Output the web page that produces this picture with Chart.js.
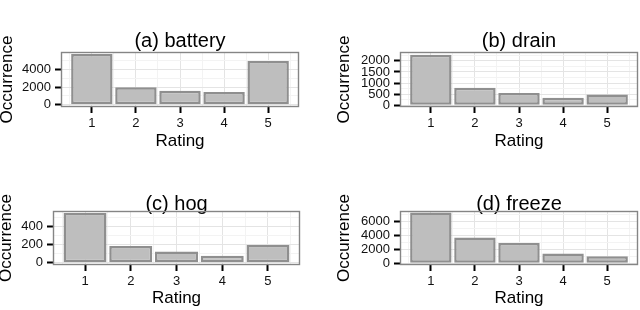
<!DOCTYPE html>
<html>
<head>
<meta charset="utf-8">
<script src="https://cdn.jsdelivr.net/npm/chart.js@4.4.1/dist/chart.umd.min.js"></script>
<style>
  html, body { margin: 0; padding: 0; background: #fff; overflow: hidden; }
  #wrap { position: relative; width: 640px; height: 310px; overflow: hidden; }
  #wrap canvas { position: absolute; }
</style>
</head>
<body>
<div id="wrap">
  <canvas id="battery"></canvas>
  <canvas id="drain"></canvas>
  <canvas id="hog"></canvas>
  <canvas id="freeze"></canvas>
</div>
<script>
// data
const ratings = ['1', '2', '3', '4', '5'];
const batteryCounts = [5750, 2000, 1600, 1460, 4950];
const drainCounts = [2280, 790, 555, 340, 480];
const hogCounts = [547, 185, 124, 78, 196];
const freezeCounts = [7280, 3710, 2910, 1390, 1000];
const panelTitles = ['(a) battery', '(b) drain', '(c) hog', '(d) freeze'];

// labelled y ticks of each panel
const batteryTicks = [0, 2000, 4000];
const drainTicks = [0, 500, 1000, 1500, 2000];
const hogTicks = [0, 200, 400];
const freezeTicks = [0, 2000, 4000, 6000];

const yMins = [-250, -80, -25, -250];
const yMaxs = [5980, 2400, 570, 7500];

const panelData = [batteryCounts, drainCounts, hogCounts, freezeCounts];
const panelTicks = [batteryTicks, drainTicks, hogTicks, freezeTicks];
const canvasIds = ['battery', 'drain', 'hog', 'freeze'];

// placement of each panel (pixels)
const layouts = [
  { left: 0,   top: 0,   width: 301, yWidth: 61, chartBottom: 107, titlePad: { top: 31, bottom: 1 },  ratingPad: 5 },
  { left: 337, top: 0,   width: 303, yWidth: 63, chartBottom: 107, titlePad: { top: 31, bottom: 1 },  ratingPad: 5 },
  { left: -1,  top: 155, width: 303, yWidth: 54, chartBottom: 110, titlePad: { top: 39, bottom: -3 }, ratingPad: 3 },
  { left: 337, top: 155, width: 303, yWidth: 63, chartBottom: 110, titlePad: { top: 39, bottom: -3 }, ratingPad: 3 }
];
const canvasHeight = 155;

Chart.defaults.font.family = "'Liberation Sans', Arial, Helvetica, sans-serif";
Chart.defaults.color = '#111';

const majorGrid = '#e4e4e4';
const minorGrid = '#f3f3f3';

// grey frame round the plot area, like theme_bw
const panelFrame = {
  id: 'panelFrame',
  afterDatasetsDraw(chart) {
    const { ctx, chartArea: a } = chart;
    ctx.save();
    ctx.strokeStyle = '#858585';
    ctx.lineWidth = 1.4;
    ctx.strokeRect(a.left + 0.5, a.top + 0.5, a.right - a.left - 1, a.bottom - a.top - 1);
    ctx.restore();
  }
};

function drawPanel(i) {
  const lay = layouts[i];
  const canvas = document.getElementById(canvasIds[i]);
  canvas.width = lay.width;
  canvas.height = canvasHeight;
  canvas.style.left = lay.left + 'px';
  canvas.style.top = lay.top + 'px';

  const majors = panelTicks[i];
  const half = (majors[1] - majors[0]) / 2;
  const isMajorY = (v) => majors.includes(v);
  const isMajorX = (v) => Number.isInteger(v);
  const points = panelData[i].map((v, k) => ({ x: k + 1, y: v }));

  new Chart(canvas.getContext('2d'), {
    type: 'bar',
    data: {
      datasets: [{
        data: points,
        backgroundColor: '#bebebe',
        borderColor: '#8f8f8f',
        borderWidth: 2.5,
        borderSkipped: false,
        // bar width is measured against the half-step ticks, so 1.88 = 0.94 of a rating
        barPercentage: 1.88,
        categoryPercentage: 1
      }]
    },
    options: {
      responsive: false,
      animation: false,
      devicePixelRatio: 1,
      layout: { padding: { left: 0, right: 2, top: 0, bottom: 0 } },
      plugins: {
        legend: { display: false },
        tooltip: { enabled: false },
        title: {
          display: true,
          text: panelTitles[i],
          fullSize: false,
          color: '#000',
          font: { size: 20, weight: 'normal', lineHeight: 1 },
          padding: lay.titlePad
        }
      },
      scales: {
        x: {
          type: 'linear',
          min: 0.3,
          max: 5.7,
          offset: false,
          afterBuildTicks(s) {
            const t = [];
            for (let k = 0; k <= ratings.length; k++) {
              t.push({ value: k + 0.5 });
              if (k < ratings.length) t.push({ value: k + 1 });
            }
            s.ticks = t;
          },
          afterFit(s) { s.height = canvasHeight - lay.chartBottom; },
          ticks: {
            autoSkip: false,
            maxRotation: 0,
            minRotation: 0,
            padding: 3,
            color: '#111',
            font: { size: 13 },
            callback: (v) => isMajorX(v) ? ratings[v - 1] : ''
          },
          grid: {
            offset: false,
            color: (c) => c.tick && isMajorX(c.tick.value) ? majorGrid : minorGrid,
            tickColor: (c) => c.tick && isMajorX(c.tick.value) ? '#000' : 'rgba(0,0,0,0)',
            tickLength: 6,
            tickWidth: 2,
            lineWidth: 1
          },
          border: { display: false },
          title: {
            display: true,
            text: 'Rating',
            color: '#000',
            font: { size: 17, lineHeight: 1 },
            padding: { top: 0, bottom: lay.ratingPad }
          }
        },
        y: {
          min: yMins[i],
          max: yMaxs[i],
          afterBuildTicks(s) {
            const t = [];
            for (let v = 0; v < s.max; v += half) t.push({ value: v });
            s.ticks = t;
          },
          afterFit(s) { s.width = lay.yWidth; },
          ticks: {
            autoSkip: false,
            padding: 4,
            color: '#111',
            font: { size: 13 },
            callback: (v) => isMajorY(v) ? String(v) : ''
          },
          grid: {
            color: (c) => c.tick && isMajorY(c.tick.value) ? majorGrid : minorGrid,
            tickColor: (c) => c.tick && isMajorY(c.tick.value) ? '#000' : 'rgba(0,0,0,0)',
            tickLength: 6,
            tickWidth: 2,
            lineWidth: 1
          },
          border: { display: false },
          title: {
            display: true,
            text: 'Occurrence',
            color: '#000',
            font: { size: 17, lineHeight: 1 },
            padding: { top: -1, bottom: 0 }
          }
        }
      }
    },
    plugins: [panelFrame]
  });
}

for (let i = 0; i < 4; i++) drawPanel(i);
</script>
</body>
</html>
